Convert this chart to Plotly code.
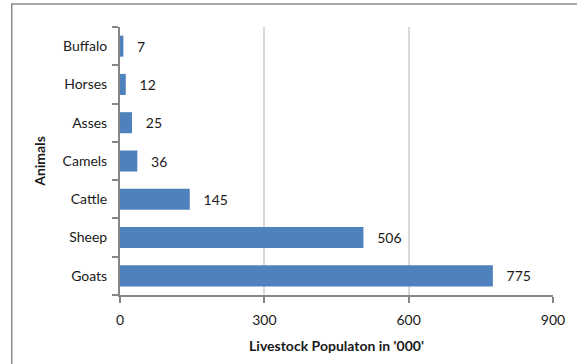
import plotly.graph_objects as go

animals = ["Goats", "Sheep", "Cattle", "Camels", "Asses", "Horses", "Buffalo"]
population = [775, 506, 145, 36, 25, 12, 7]
x_ticks = [0, 300, 600, 900]

FONT = "Lato, Open Sans, Liberation Sans, sans-serif"

fig = go.Figure(go.Bar(
    y=animals, x=population, orientation="h",
    marker=dict(color="#4F81BD", line=dict(width=0)),
    text=population, texttemplate="   %{x}", textposition="outside",
    textfont=dict(size=14, color="#1a1a1a", family=FONT),
    cliponaxis=False,
))

fig.update_layout(
    width=577, height=364,
    margin=dict(l=120, r=14, t=27, b=68),
    paper_bgcolor="white", plot_bgcolor="white",
    bargap=0.45,
    showlegend=False,
    font=dict(family=FONT, size=14, color="#1a1a1a"),
    xaxis=dict(
        range=[0, 900], tickvals=x_ticks, ticktext=[str(v) for v in x_ticks],
        showgrid=True, gridcolor="#d9d9d9", gridwidth=2,
        showline=True, linecolor="#868686", linewidth=2,
        ticks="outside", ticklen=6, tickcolor="#868686", tickwidth=2,
        ticklabelstandoff=5,
        zeroline=False,
        title=dict(text="<b>Livestock Populaton in '000'</b>", font=dict(size=14), standoff=14),
        tickfont=dict(size=14),
    ),
    yaxis=dict(
        categoryorder="array", categoryarray=animals,
        showline=True, linecolor="#868686", linewidth=2,
        ticks="outside", ticklen=6, tickcolor="#868686", tickwidth=2,
        tickson="boundaries",
        ticklabelstandoff=8,
        showgrid=False,
        title=dict(text="<b>Animals</b>", font=dict(size=14), standoff=14),
        tickfont=dict(size=14),
    ),
    shapes=[dict(
        type="rect", xref="paper", yref="paper",
        x0=-0.2500, x1=1.2, y0=-0.5, y1=1.0855,
        line=dict(color="#8c8c8c", width=1.5), fillcolor="rgba(0,0,0,0)",
        layer="below",
    )],
)

fig.write_html("out.html")
